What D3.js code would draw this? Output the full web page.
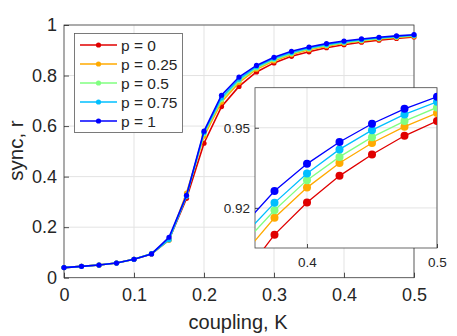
<!DOCTYPE html>
<html>
<head>
<meta charset="utf-8">
<script src="https://cdn.jsdelivr.net/npm/d3@7"></script>
<style>
  body { margin: 0; background: #fff; }
  svg { display: block; font-family: "Liberation Sans", Arial, sans-serif; }
</style>
</head>
<body>
<svg id="chart" width="457" height="336"></svg>
<script>
// coupling values
const K = [0, 0.025, 0.05, 0.075, 0.1, 0.125, 0.15, 0.175, 0.2, 0.225, 0.25,
           0.275, 0.3, 0.325, 0.35, 0.375, 0.4, 0.425, 0.45, 0.475, 0.5];

// sync r for each p
const r_p0    = [0.040, 0.045, 0.050, 0.058, 0.073, 0.094, 0.150, 0.314, 0.532, 0.677, 0.757,
                 0.814, 0.850, 0.876, 0.894, 0.910, 0.922, 0.932, 0.940, 0.947, 0.9525];
const r_p025  = [0.040, 0.045, 0.050, 0.058, 0.073, 0.095, 0.148, 0.335, 0.560, 0.695, 0.772,
                 0.825, 0.858, 0.883, 0.902, 0.9163, 0.9276, 0.9368, 0.9443, 0.9504, 0.9555];
const r_p05   = [0.040, 0.045, 0.050, 0.058, 0.073, 0.095, 0.152, 0.325, 0.570, 0.705, 0.780,
                 0.830, 0.863, 0.887, 0.906, 0.9191, 0.9304, 0.9391, 0.9465, 0.9525, 0.9576];
const r_p075  = [0.040, 0.045, 0.050, 0.058, 0.073, 0.095, 0.150, 0.322, 0.575, 0.712, 0.786,
                 0.835, 0.867, 0.891, 0.909, 0.9219, 0.9329, 0.9419, 0.9491, 0.9550, 0.9597];
const r_p1    = [0.040, 0.045, 0.050, 0.058, 0.073, 0.094, 0.160, 0.326, 0.580, 0.722, 0.794,
                 0.840, 0.872, 0.896, 0.913, 0.9263, 0.9365, 0.9447, 0.9515, 0.9571, 0.9616];

const seriesNames = ["p = 0", "p = 0.25", "p = 0.5", "p = 0.75", "p = 1"];
const seriesColors = ["#e00000", "#ffaa00", "#80ff80", "#00bfff", "#0000ff"];
const seriesValues = [r_p0, r_p025, r_p05, r_p075, r_p1];

const xTicks = [0, 0.1, 0.2, 0.3, 0.4, 0.5];
const yTicks = [0, 0.2, 0.4, 0.6, 0.8, 1];
const insetXTicks = [0.4, 0.5];
const insetYTicks = [0.92, 0.95];

const series = seriesNames.map((name, i) => ({
    name: name,
    color: seriesColors[i],
    values: K.map((k, j) => ({k: k, r: seriesValues[i][j]}))
}));

const svg = d3.select("#chart");
const gridColor = "#e3e3e3";
const axisColor = "#262626";

// main axes
const main = {left: 64, top: 25, right: 414, bottom: 277.7};
const x = d3.scaleLinear().domain([0, 0.5]).range([main.left, main.right]);
const y = d3.scaleLinear().domain([0, 1]).range([main.bottom, main.top]);

function drawAxes(g, xs, ys, xt, yt, box, opts) {
    // grid
    g.append("g").selectAll("line.gx").data(xt).join("line")
        .attr("x1", d => xs(d)).attr("x2", d => xs(d))
        .attr("y1", box.top).attr("y2", box.bottom)
        .attr("stroke", gridColor).attr("stroke-width", 1);
    g.append("g").selectAll("line.gy").data(yt).join("line")
        .attr("x1", box.left).attr("x2", box.right)
        .attr("y1", d => ys(d)).attr("y2", d => ys(d))
        .attr("stroke", gridColor).attr("stroke-width", 1);

    // axes with inward ticks
    const ax = g.append("g").attr("transform", `translate(0,${box.bottom})`)
        .call(d3.axisBottom(xs).tickValues(xt).tickSize(-opts.tick).tickPadding(opts.padX).tickFormat(d3.format("")));
    const ay = g.append("g").attr("transform", `translate(${box.left},0)`)
        .call(d3.axisLeft(ys).tickValues(yt).tickSize(-opts.tick).tickPadding(opts.padY).tickFormat(d3.format("")));
    [ax, ay].forEach(a => {
        a.select(".domain").remove();
        a.selectAll(".tick line").attr("stroke", axisColor).attr("stroke-width", 0.8);
        a.selectAll(".tick text").attr("fill", axisColor)
            .style("font-size", opts.font + "px")
            .style("font-family", "'Liberation Sans', Arial, sans-serif");
    });
    // box
    g.append("rect")
        .attr("x", box.left).attr("y", box.top)
        .attr("width", box.right - box.left).attr("height", box.bottom - box.top)
        .attr("fill", "none").attr("stroke", axisColor).attr("stroke-width", 0.8)
        .attr("stroke-opacity", 0.85);
}

const gMain = svg.append("g");
drawAxes(gMain, x, y, xTicks, yTicks, main, {tick: 5, padX: 11, padY: 7, font: 18});

const line = d3.line().x(d => x(d.k)).y(d => y(d.r));
const gLines = gMain.append("g");
series.forEach(s => {
    gLines.append("path").datum(s.values)
        .attr("fill", "none").attr("stroke", s.color).attr("stroke-width", 1.6)
        .attr("d", line);
    gLines.selectAll(null).data(s.values).join("circle")
        .attr("cx", d => x(d.k)).attr("cy", d => y(d.r)).attr("r", 2.6)
        .attr("fill", s.color);
});

// axis labels
svg.append("text")
    .attr("x", 238).attr("y", 328.5)
    .attr("text-anchor", "middle").attr("fill", axisColor)
    .style("font-size", "20px").text("coupling, K");
svg.append("text")
    .attr("transform", `translate(23,150.5) rotate(-90)`)
    .attr("text-anchor", "middle").attr("fill", axisColor)
    .style("font-size", "20.5px").text("sync, r");

// legend
const leg = svg.append("g");
leg.append("rect")
    .attr("x", 74.5).attr("y", 33.5).attr("width", 108).attr("height", 99)
    .attr("fill", "#fff").attr("stroke", "#5a5a5a").attr("stroke-width", 0.8);
series.forEach((s, i) => {
    const ly = 45 + i * 19;
    leg.append("line").attr("x1", 80).attr("x2", 117).attr("y1", ly).attr("y2", ly)
        .attr("stroke", s.color).attr("stroke-width", 1.6);
    leg.append("circle").attr("cx", 98.5).attr("cy", ly).attr("r", 2.6).attr("fill", s.color);
    leg.append("text").attr("x", 121).attr("y", ly + 5.5)
        .attr("fill", axisColor).style("font-size", "15.5px").text(s.name);
});

// inset
const inset = {left: 255, top: 87.7, right: 437, bottom: 248};
const xi = d3.scaleLinear().domain([0.36, 0.5]).range([inset.left, inset.right]);
const yi = d3.scaleLinear().domain([0.905, 0.965]).range([inset.bottom, inset.top]);

const gIn = svg.append("g");
gIn.append("rect")
    .attr("x", inset.left).attr("y", inset.top)
    .attr("width", inset.right - inset.left).attr("height", inset.bottom - inset.top)
    .attr("fill", "#fff");
drawAxes(gIn, xi, yi, insetXTicks, insetYTicks, inset, {tick: 4, padX: 9, padY: 5, font: 13.5});

svg.append("clipPath").attr("id", "insetClip").append("rect")
    .attr("x", inset.left).attr("y", inset.top)
    .attr("width", inset.right - inset.left).attr("height", inset.bottom - inset.top);

const lineIn = d3.line().x(d => xi(d.k)).y(d => yi(d.r));
const gInLines = gIn.append("g").attr("clip-path", "url(#insetClip)");
series.forEach(s => {
    gInLines.append("path").datum(s.values)
        .attr("fill", "none").attr("stroke", s.color).attr("stroke-width", 1.3)
        .attr("d", lineIn);
});
series.forEach(s => {
    gInLines.selectAll(null).data(s.values.filter(d => d.k >= 0.36)).join("circle")
        .attr("cx", d => xi(d.k)).attr("cy", d => yi(d.r)).attr("r", 4)
        .attr("fill", s.color);
});
</script>
</body>
</html>
